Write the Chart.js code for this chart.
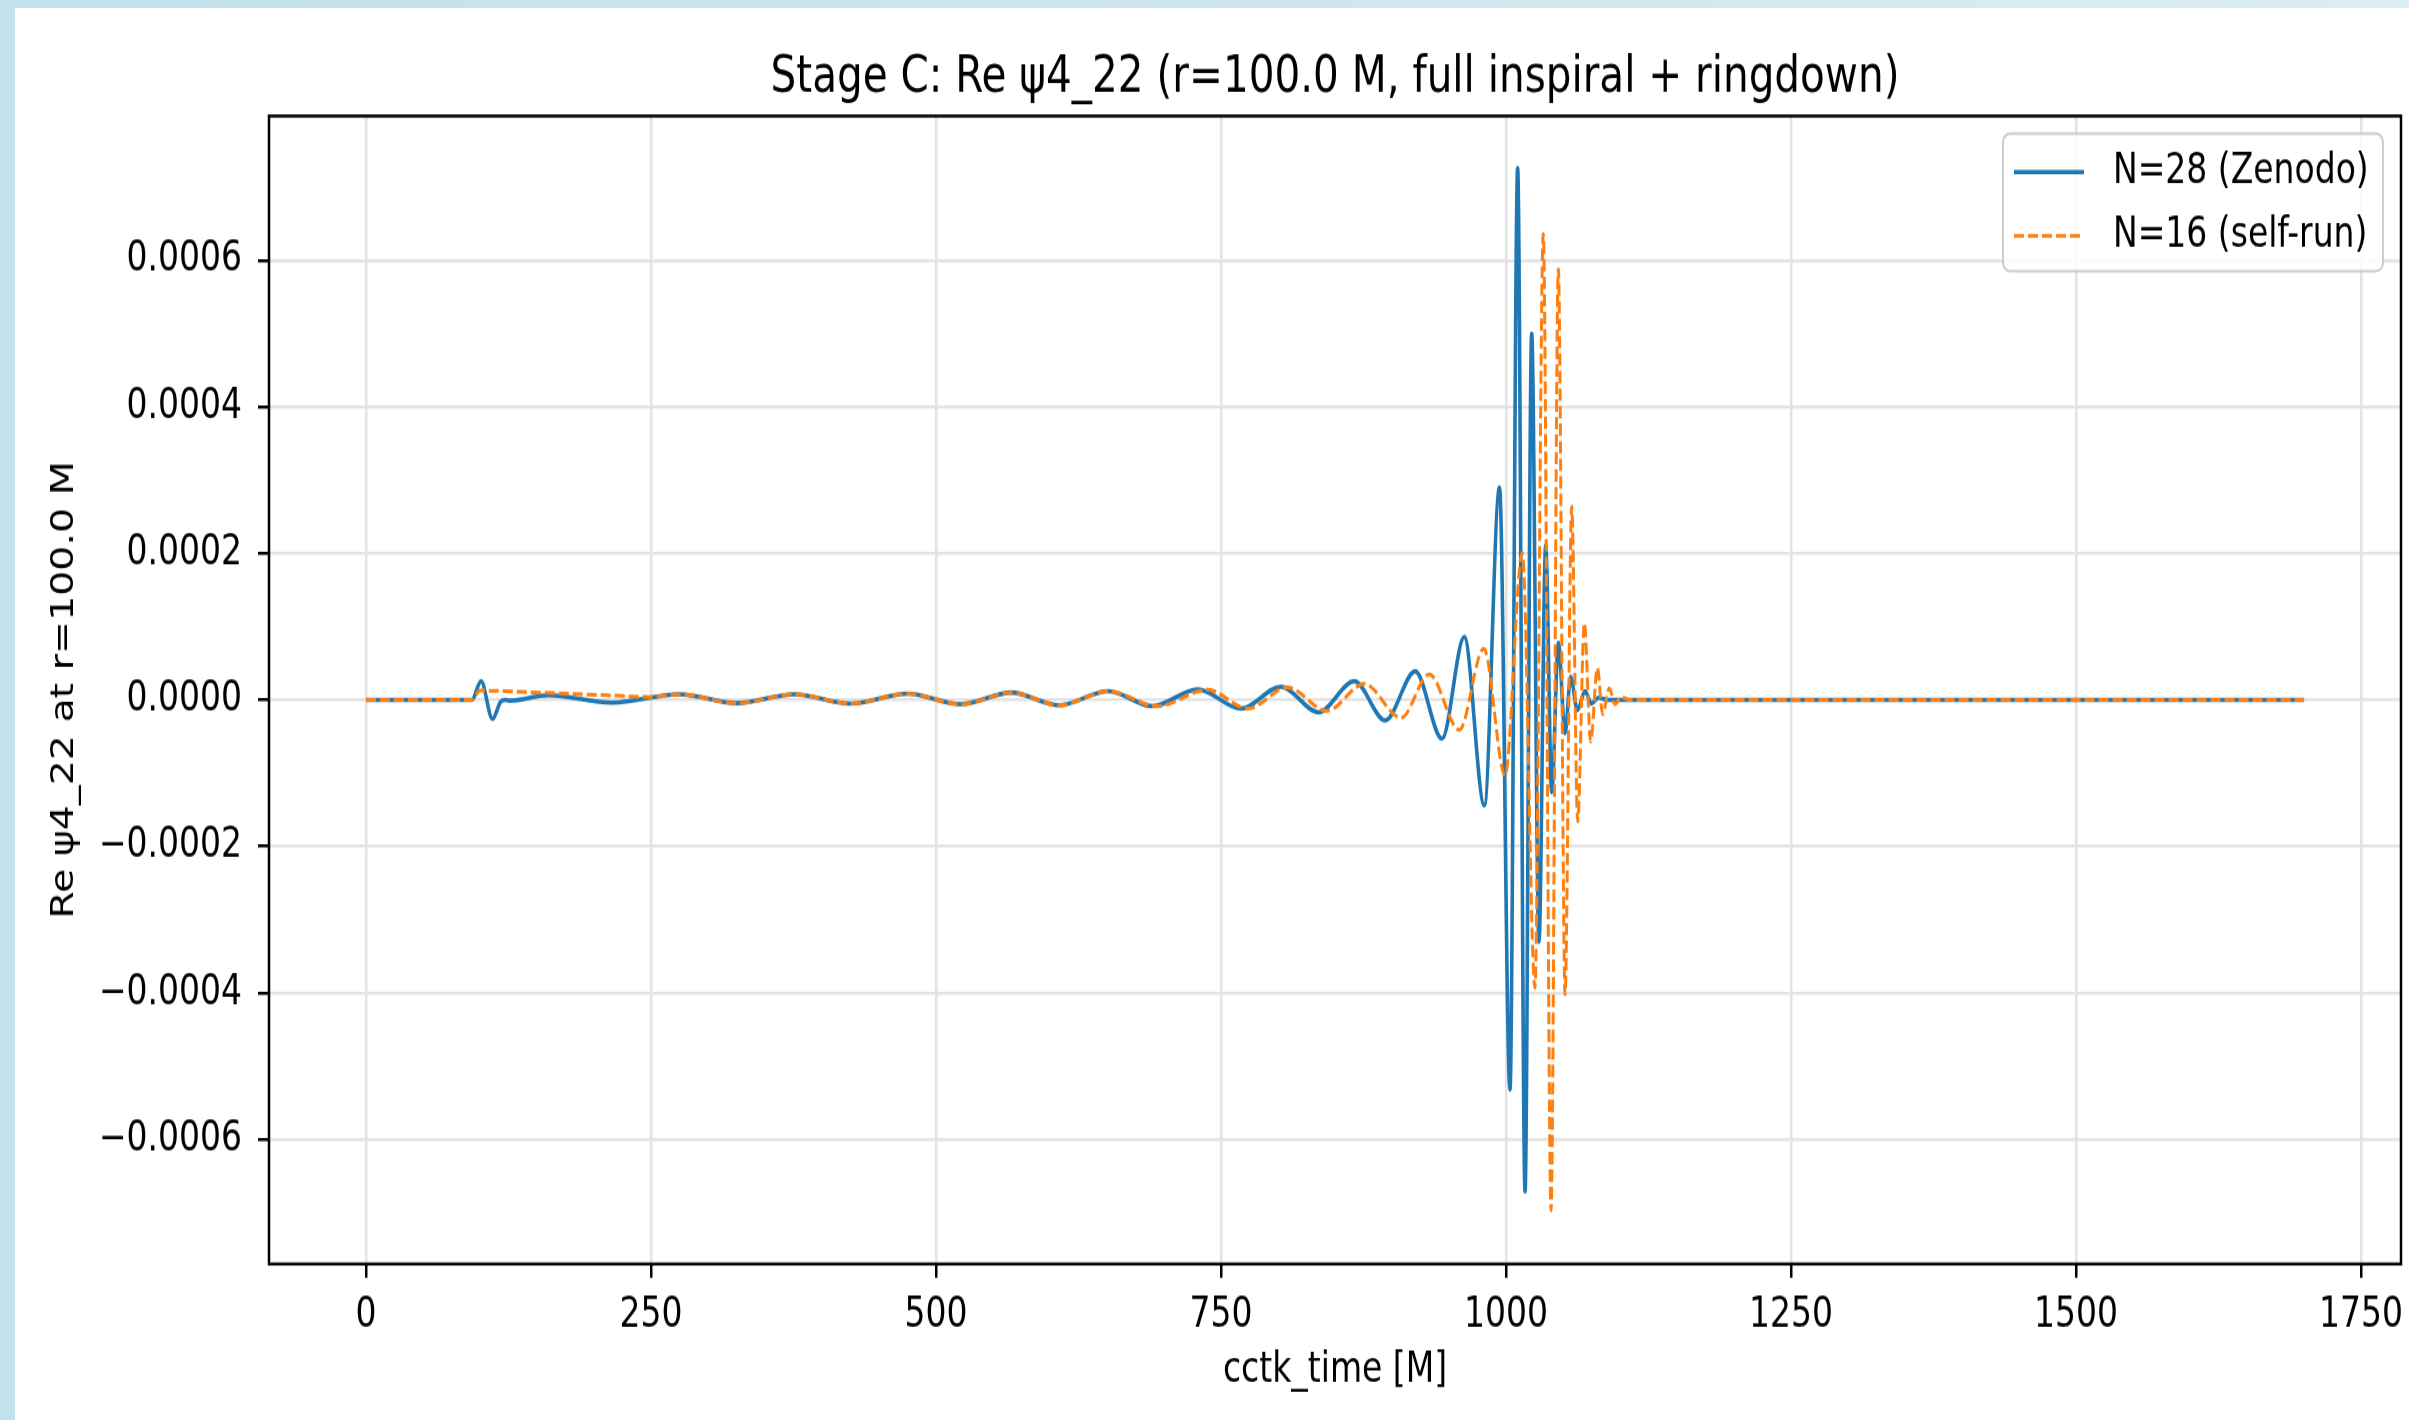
<!DOCTYPE html>
<html>
<head>
<meta charset="utf-8">
<title>Stage C psi4</title>
<script src="https://cdn.jsdelivr.net/npm/chart.js@4.4.1/dist/chart.umd.min.js"></script>
<style>
  html, body { margin: 0; padding: 0; }
  body {
    width: 2409px; height: 1420px; overflow: hidden;
    background: linear-gradient(90deg, #c2e1ea 0%, #cfe7ee 60%, #dcedf2 100%);
  }
  #sheet { position: absolute; left: 15px; top: 8px; width: 2394px; height: 1412px; background: #fff; }
  /* the plot is drawn squat and stretched vertically */
  #psi4 { position: absolute; left: 0; top: 0; width: 2394px; height: 1130px; transform: scaleY(1.25); transform-origin: 0 0; }
</style>
</head>
<body>
<div id="sheet"><canvas id="psi4" width="2394" height="1130"></canvas></div>
<script>
const FONT = "'DejaVu Sans', sans-serif";

const plotTitle = 'Stage C: Re ψ4_22 (r=100.0 M, full inspiral + ringdown)';

const timeTicks = [0, 250, 500, 750, 1000, 1250, 1500, 1750];
const psiTicks = [-0.0006, -0.0004, -0.0002, 0, 0.0002, 0.0004, 0.0006];
const psiTickLabels = ['−0.0006', '−0.0004', '−0.0002', '0.0000', '0.0002', '0.0004', '0.0006'];

// N=28 run (Zenodo)
const zenodoTime = [0, 93, 101, 111, 118, 122, 126, 160, 216, 275, 325, 376, 425, 475, 522, 566, 608, 651, 690,
  729.5, 767.5, 802.6, 835.5, 866.9, 894.1, 920.4, 943.9, 963.4, 981, 994.3, 1003.5, 1010.2, 1016.7,
  1022.5, 1028.9, 1034.8, 1040.1, 1045.9, 1051.8, 1056.7, 1062.6, 1069.3, 1075, 1081, 1090, 1700];
const zenodoRe = [0, 0, 2.55e-5, -2.6e-5, -3e-6, 0, -1e-6, 6.4e-6, -3.7e-6, 7.8e-6, -4.5e-6, 7.8e-6, -5e-6, 8.6e-6, -6e-6, 1.0e-5, -7.3e-6, 1.2e-5, -8.6e-6,
  1.46e-5, -1.2e-5, 1.8e-5, -1.7e-5, 2.55e-5, -2.8e-5, 3.9e-5, -5.3e-5, 8.6e-5, -1.44e-4, 2.9e-4, -5.32e-4, 7.26e-4, -6.71e-4,
  5.0e-4, -3.3e-4, 2.11e-4, -1.26e-4, 7.8e-5, -4.56e-5, 3.15e-5, -1.4e-5, 1.2e-5, -5e-6, 3e-6, 0, 0];

// N=16 run (self-run)
const selfTime = [0, 93, 100, 152, 211, 250, 275, 325, 376, 425, 475, 522, 566, 608, 651, 694,
  738.3, 773.4, 808.4, 843, 875.7, 907.9, 932.7, 959, 980.5, 999.2, 1014.3, 1025.4, 1032.7, 1039.5,
  1045.9, 1051.8, 1057.6, 1062.9, 1068.7, 1074.3, 1080.1, 1084.8, 1090.6, 1095.6, 1101, 1108, 1700];
const selfRe = [0, 0, 1.27e-5, 1.0e-5, 6.4e-6, 4e-6, 7.8e-6, -4.5e-6, 7.8e-6, -5e-6, 8.6e-6, -6e-6, 1.0e-5, -7.3e-6, 1.2e-5, -8.6e-6,
  1.4e-5, -1.2e-5, 1.7e-5, -1.5e-5, 2.2e-5, -2.45e-5, 3.5e-5, -4.1e-5, 7.0e-5, -1.03e-4, 2.01e-4, -3.93e-4, 6.36e-4, -6.97e-4,
  5.88e-4, -4.02e-4, 2.64e-4, -1.66e-4, 1.05e-4, -5.7e-5, 4.4e-5, -1.95e-5, 1.6e-5, -6e-6, 4e-6, 0, 0];

const toPoints = (ts, vs) => ts.map((t, i) => ({ x: t, y: vs[i] }));

// title over the axes, frame on all four sides and the boxed legend
const axesDecor = {
  id: 'axesDecor',
  afterDatasetsDraw(chart) {
    const { ctx, chartArea: a } = chart;
    ctx.save();
    ctx.strokeStyle = '#000';
    ctx.lineWidth = 2.5;
    ctx.strokeRect(a.left, a.top, a.right - a.left, a.bottom - a.top);

    ctx.fillStyle = '#000';
    ctx.font = '40.5px ' + FONT;
    ctx.textAlign = 'center';
    ctx.textBaseline = 'middle';
    ctx.fillText(plotTitle, (a.left + a.right) / 2, 56.5);

    const bx = a.right - 398, by = a.top + 14, bw = 380, bh = 110;
    ctx.beginPath();
    ctx.roundRect(bx, by, bw, bh, 7);
    ctx.fillStyle = 'rgba(255,255,255,0.8)';
    ctx.fill();
    ctx.strokeStyle = '#cccccc';
    ctx.lineWidth = 2;
    ctx.stroke();

    ctx.font = '33px ' + FONT;
    ctx.textAlign = 'left';
    chart.data.datasets.forEach((ds, i) => {
      const y = by + 30.8 + i * 51;
      ctx.beginPath();
      ctx.setLineDash(ds.borderDash || []);
      ctx.strokeStyle = ds.borderColor;
      ctx.lineWidth = ds.borderWidth;
      ctx.moveTo(bx + 11, y);
      ctx.lineTo(bx + 81, y);
      ctx.stroke();
      ctx.setLineDash([]);
      ctx.fillStyle = '#000';
      ctx.fillText(ds.label, bx + 110, y);
    });
    ctx.restore();
  }
};

new Chart(document.getElementById('psi4'), {
  type: 'line',
  data: {
    datasets: [
      {
        label: 'N=28 (Zenodo)',
        data: toPoints(zenodoTime, zenodoRe),
        borderColor: '#1f77b4',
        borderWidth: 3.6,
        borderJoinStyle: 'round',
        pointRadius: 0,
        cubicInterpolationMode: 'monotone',
        order: 2
      },
      {
        label: 'N=16 (self-run)',
        data: toPoints(selfTime, selfRe),
        borderColor: '#ff7f0e',
        borderWidth: 3,
        borderDash: [10, 4],
        pointRadius: 0,
        cubicInterpolationMode: 'monotone',
        order: 1
      }
    ]
  },
  options: {
    responsive: false,
    animation: false,
    devicePixelRatio: 1,
    layout: { padding: { top: 86.4, right: 8, left: 0, bottom: 0 } },
    plugins: {
      legend: { display: false },
      tooltip: { enabled: false },
      title: { display: false }
    },
    scales: {
      x: {
        type: 'linear',
        min: -85,
        max: 1785,
        afterBuildTicks: s => { s.ticks = timeTicks.map(v => ({ value: v })); },
        afterFit: s => {
          s.height = 125.2;
          s.paddingLeft = 0;
          s.paddingRight = 0;
        },
        border: { display: false },
        grid: { color: '#e3e3e3', lineWidth: 2.5, tickColor: '#000', tickLength: 11, tickWidth: 2.5 },
        ticks: {
          font: { family: FONT, size: 33 },
          color: '#000',
          padding: 11,
          maxRotation: 0,
          autoSkip: false,
          callback: v => String(v)
        },
        title: {
          display: true,
          text: 'cctk_time [M]',
          color: '#000',
          font: { family: FONT, size: 33 },
          padding: { top: 0, bottom: 20 }
        }
      },
      y: {
        type: 'linear',
        min: -0.00077,
        max: 0.000797,
        afterBuildTicks: s => { s.ticks = psiTicks.map(v => ({ value: v })); },
        afterFit: s => {
          s.width = 254;
          s.paddingTop = 0;
          s.paddingBottom = 0;
        },
        border: { display: false },
        grid: { color: '#e3e3e3', lineWidth: 2.5, tickColor: '#000', tickLength: 11, tickWidth: 2.5 },
        ticks: {
          font: { family: FONT, size: 33 },
          color: '#000',
          padding: 16,
          autoSkip: false,
          callback: v => psiTickLabels[psiTicks.indexOf(v)]
        },
        title: {
          display: true,
          text: 'Re ψ4_22 at r=100.0 M',
          color: '#000',
          font: { family: FONT, size: 31.6 },
          padding: { top: 31, bottom: 0 }
        }
      }
    }
  },
  plugins: [axesDecor]
});
</script>
</body>
</html>
